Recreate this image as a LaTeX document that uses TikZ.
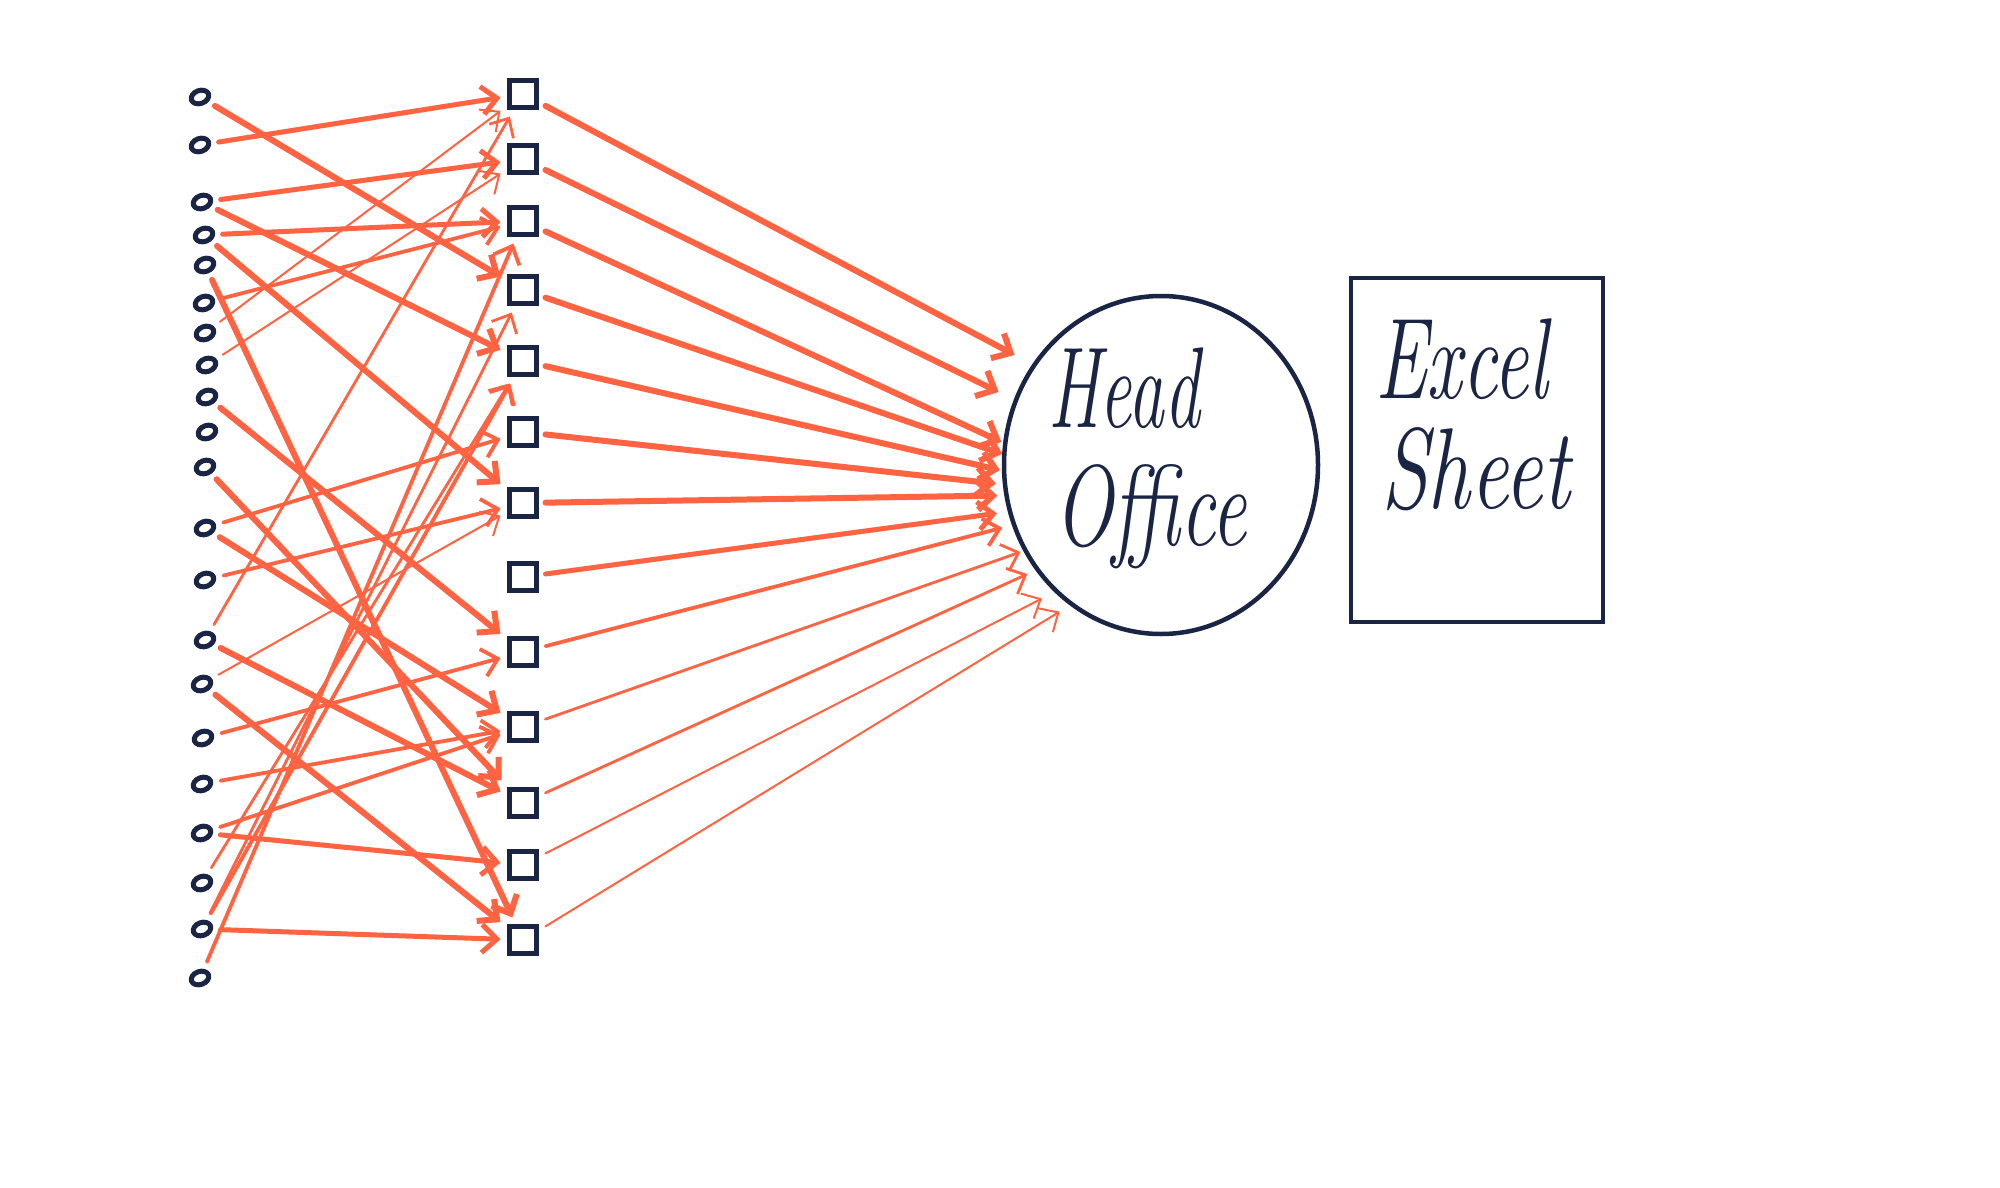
\documentclass[tikz,border=0pt]{standalone}
\usetikzlibrary{arrows.meta,shapes.geometric}
\definecolor{org}{RGB}{255,99,66}
\definecolor{navy}{RGB}{26,36,68}
\begin{document}
\begin{tikzpicture}[x=1pt,y=-1pt,
  dot/.style={draw=navy,line width=5pt,ellipse,minimum width=18pt,minimum height=13pt,inner sep=0pt,outer sep=10pt,rotate=20},
  box/.style={draw=navy,line width=4.8pt,rectangle,minimum size=27pt,inner sep=0pt,outer sep=9pt},
  ln/.style={draw=org,line cap=round,-{Straight Barb[length=15pt,width=28pt]}},
  w5/.style={ln,line width=6pt},
  w4/.style={ln,line width=5pt},
  w3/.style={ln,line width=3.8pt},
  w2/.style={ln,line width=2.8pt},
  w1/.style={ln,line width=2pt},
  hand/.style={text=navy,font=\fontsize{115}{120}\selectfont\itshape,inner sep=0pt,anchor=base west}]
\useasboundingbox (0,0) rectangle (2000,1188);
\fill[white] (0,0) rectangle (2000,1188);
% small circles
\foreach \i/\x/\y in {1/200/97,2/200/145,3/202/202,4/204/235,5/205/265,6/204/303,7/205/333,8/207/365,9/207/397,10/207/432,11/205/467,12/205/528,13/205/580,14/205/640,15/202/684,16/203/738,17/202/784,18/202/833,19/202/883,20/202/929,21/200/978}
  \node[dot] (c\i) at (\x,\y) {};
% squares
\foreach \i/\y in {1/94,2/159,3/221,4/290,5/361,6/432,7/503,8/577,9/652,10/727,11/803,12/865,13/940}
  \node[box] (s\i) at (523,\y) {};
% head office and sheet
\node[draw=navy,line width=4.5pt,ellipse,minimum width=314pt,minimum height=338pt,inner sep=0pt] (ho) at (1161,465) {};
\node[draw=navy,line width=4.5pt,rectangle,minimum width=252pt,minimum height=344pt,inner sep=0pt] (xs) at (1477,450) {};
\node[hand,xscale=0.62] (t1) at (1048,427) {Head};
\node[hand,xscale=0.68] (t2) at (1054,545) {Office};
\node[hand,xscale=0.68] (t3) at (1375,398) {Excel};
\node[hand,xscale=0.74] (t4) at (1381,508) {Sheet};
% circles to squares
\draw[w5] (c1) -- (s4);
\draw[w4] (c2) -- (s1);
\draw[w4] (c3) -- (s2);
\draw[w5] (c3) -- (s5);
\draw[w4] (c4) -- (s3);
\draw[w5] (c4) -- (s7);
\draw[w5] (c5) -- (s13);
\draw[w3] (c6) -- (s3);
\draw[w1] (c7) -- (s1);
\draw[w1] (c8) -- (s2);
\draw[w5] (c9) -- (s9);
\draw[w5] (c11) -- (s11);
\draw[w3] (c12) -- (s6);
\draw[w5] (c12) -- (s10);
\draw[w3] (c13) -- (s7);
\draw[w2] (c14) -- (s1);
\draw[w5] (c14) -- (s11);
\draw[w5] (c15) -- (s13);
\draw[w1] (c15) -- (s7);
\draw[w3] (c16) -- (s9);
\draw[w3] (c17) -- (s10);
\draw[w3] (c18) -- (s10);
\draw[w4] (c18) -- (s12);
\draw[w2] (c19) -- (s5);
\draw[w4] (c20) -- (s13);
\draw[w2] (c20) -- (s4);
\draw[w3] (c20) -- (s5);
\draw[w3] (c21) -- (s3);
% squares to head office
\draw[w5,shorten >=20pt] (s1) -- (ho.142.6);
\draw[w5,shorten >=17pt] (s2) -- (ho.156.5);
\draw[w5,shorten >=2pt] (s3) -- (ho.172.8);
\draw[w5] (s4) -- (ho.176.3);
\draw[w5,shorten >=2pt] (s5) -- (ho.182.9);
\draw[w5,shorten >=7pt] (s6) -- (ho.187.7);
\draw[w5,shorten >=7pt] (s7) -- (ho.191.2);
\draw[w4,shorten >=11pt] (s8) -- (ho.197.3);
\draw[w3,shorten >=10pt] (s9) -- (ho.202.6);
\draw[w2,shorten >=3pt] (s10) -- (ho.212.5);
\draw[w2,shorten >=9pt] (s11) -- (ho.220);
\draw[w1,shorten >=14pt] (s12) -- (ho.230.2);
\draw[w1,shorten >=12pt] (s13) -- (ho.237.9);
\end{tikzpicture}
\end{document}
